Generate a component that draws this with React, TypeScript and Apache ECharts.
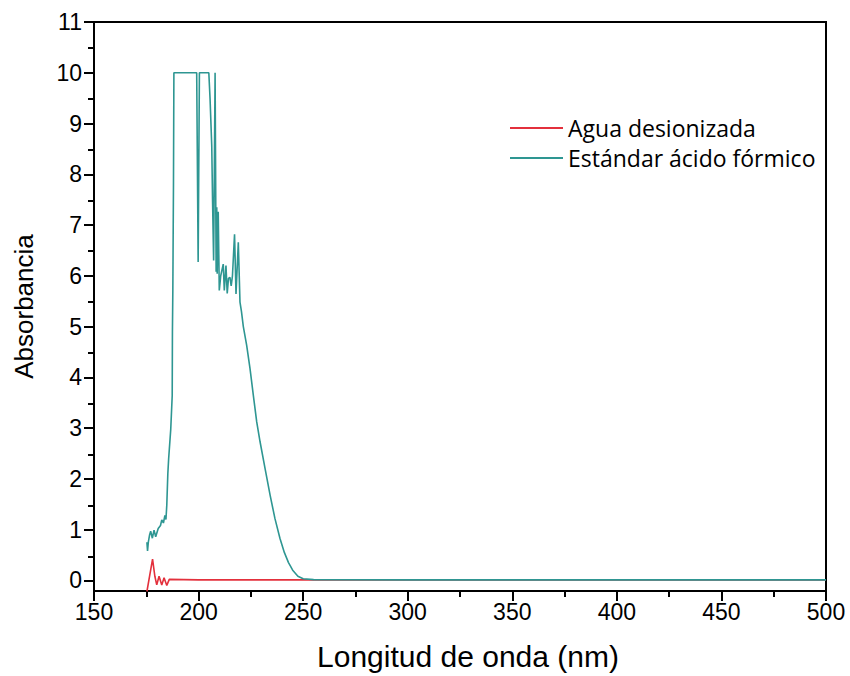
import React, { useEffect, useRef } from "react";
import * as echarts from "echarts";

const seriesNames = ["Agua desionizada", "Estándar ácido fórmico"];
const xTickValues = [150, 200, 250, 300, 350, 400, 450, 500];
const yTickValues = [0, 1, 2, 3, 4, 5, 6, 7, 8, 9, 10, 11];
const yMinorTickValues = [0.5, 1.5, 2.5, 3.5, 4.5, 5.5, 6.5, 7.5, 8.5, 9.5, 10.5];

// [wavelength nm, absorbance]
const aguaData: [number, number][] = [
  [175.3, -0.22], [178.0, 0.42], [179.1, 0.08], [180.0, -0.09], [181.1, 0.08],
  [182.4, -0.09], [183.5, 0.05], [184.8, -0.1], [186.0, 0.02], [200, 0.01],
  [300, 0.01], [400, 0.01], [500, 0.01],
];

const acidoData: [number, number][] = [
  [175.3, 0.75], [175.6, 0.58], [176.0, 0.76], [176.6, 0.9], [177.1, 0.97],
  [177.9, 0.83], [178.7, 0.99], [179.5, 0.86], [180.7, 1.02], [181.8, 1.08],
  [182.4, 1.19], [183.2, 1.13], [183.9, 1.28], [184.4, 1.2], [184.8, 1.48],
  [185.3, 2.1], [185.7, 2.4], [186.7, 2.98], [187.4, 3.64], [187.5, 4.9],
  [187.7, 5.74], [188.0, 7.8], [188.2, 10], [199.1, 10], [199.8, 6.27],
  [200.4, 10], [204.9, 10], [205.5, 9.48], [206.3, 8.56], [206.7, 7.45],
  [207.2, 6.3], [207.9, 10], [208.4, 6.08], [208.7, 7.35], [208.9, 6.04],
  [209.4, 7.26], [209.9, 5.71], [210.6, 6.0], [211.8, 6.23], [212.3, 5.71],
  [213.1, 6.2], [213.7, 5.65], [214.3, 5.95], [215.0, 5.97], [215.6, 5.8],
  [216.2, 6.0], [217.2, 6.82], [217.9, 5.64], [219.0, 6.66], [219.8, 5.48],
  [220.5, 5.3], [221.4, 5.0], [223.0, 4.63], [224.6, 4.17], [226.2, 3.64],
  [227.8, 3.12], [229.4, 2.73], [231.8, 2.2], [234.2, 1.68], [236.5, 1.22],
  [238.9, 0.83], [241.0, 0.55], [243.0, 0.35], [245.0, 0.2], [247.5, 0.08],
  [250.0, 0.03], [255.0, 0.015], [300, 0.01], [400, 0.01], [500, 0.01],
];

const RED = "#e3303c";
const TEAL = "#2e9692";
const AXIS_FONT = "'Liberation Sans', Arial, sans-serif";

export default function App() {
  const ref = useRef<HTMLDivElement>(null);
  useEffect(() => {
    if (!ref.current) return;
    const chart = echarts.init(ref.current, null, { renderer: "svg" });
    const gridPos = { left: 94, right: 24, top: 22, bottom: 83 };
    chart.setOption({
      animation: false,
      backgroundColor: "#fff",
      grid: [
        { ...gridPos, show: true, borderColor: "#000", borderWidth: 2, containLabel: false },
        { ...gridPos, show: false, containLabel: false },
      ],
      legend: {
        orient: "vertical",
        left: 505,
        top: 110,
        itemWidth: 53,
        itemHeight: 2,
        itemGap: 4,
        icon: "rect",
        selectedMode: false,
        textStyle: { fontFamily: "'Open Sans', sans-serif", fontSize: 23, lineHeight: 26, color: "#000" },
        data: seriesNames,
      },
      xAxis: [
        {
          type: "value",
          gridIndex: 0,
          min: 150,
          max: 500,
          interval: 50,
          name: "Longitud de onda (nm)",
          nameLocation: "middle",
          nameGap: 50,
          nameTextStyle: { fontFamily: AXIS_FONT, fontSize: 30, color: "#000", padding: [0, 0, 0, 16] },
          axisLine: { show: true, onZero: false, lineStyle: { color: "#000", width: 2 } },
          axisTick: { show: true, length: 10, lineStyle: { color: "#000", width: 2 } },
          minorTick: { show: true, splitNumber: 2, length: 6, lineStyle: { color: "#000", width: 2 } },
          axisLabel: { fontFamily: AXIS_FONT, fontSize: 23, color: "#000", margin: 9, customValues: xTickValues },
          splitLine: { show: false },
        },
        {
          type: "value",
          gridIndex: 1,
          min: 150,
          max: 500,
          show: false,
        },
      ],
      yAxis: [
        {
          type: "value",
          gridIndex: 0,
          min: -0.21,
          max: 11,
          name: "Absorbancia",
          nameLocation: "middle",
          nameGap: 57,
          nameTextStyle: { fontFamily: AXIS_FONT, fontSize: 26, color: "#000" },
          axisLine: { show: true, onZero: false, lineStyle: { color: "#000", width: 2 } },
          axisTick: { show: true, length: 10, customValues: yTickValues, lineStyle: { color: "#000", width: 2 } },
          axisLabel: { fontFamily: AXIS_FONT, fontSize: 23, color: "#000", margin: 12, customValues: yTickValues },
          splitLine: { show: false },
        },
        {
          type: "value",
          gridIndex: 1,
          min: -0.21,
          max: 11,
          axisLine: { show: false },
          axisTick: { show: true, length: 6, customValues: yMinorTickValues, lineStyle: { color: "#000", width: 2 } },
          axisLabel: { show: false },
          splitLine: { show: false },
        },
      ],
      series: [
        {
          name: seriesNames[0],
          type: "line",
          xAxisIndex: 0,
          yAxisIndex: 0,
          data: aguaData,
          showSymbol: false,
          symbol: "none",
          lineStyle: { color: RED, width: 1.6 },
          itemStyle: { color: RED },
          z: 2,
        },
        {
          name: seriesNames[1],
          type: "line",
          xAxisIndex: 0,
          yAxisIndex: 0,
          data: acidoData,
          showSymbol: false,
          symbol: "none",
          lineStyle: { color: TEAL, width: 1.6 },
          itemStyle: { color: TEAL },
          z: 3,
        },
      ],
    });
    return () => chart.dispose();
  }, []);
  return <div ref={ref} style={{ width: 850, height: 676, position: "absolute", left: 0, top: 0 }} />;
}
